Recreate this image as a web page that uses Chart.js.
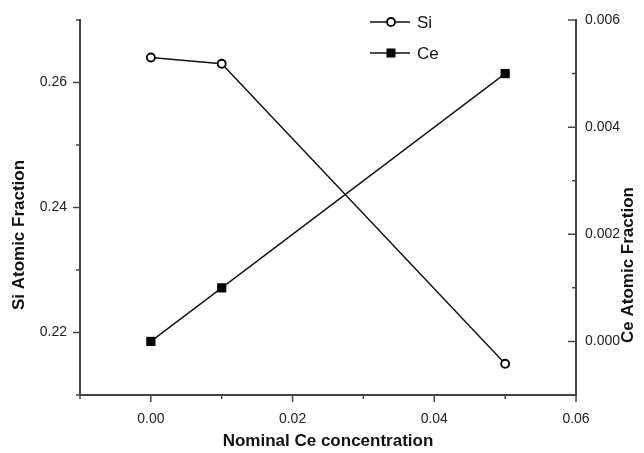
<!DOCTYPE html>
<html lang="en">
<head>
  <meta charset="UTF-8">
  <title>Si and Ce atomic fraction</title>
  <script src="https://cdn.jsdelivr.net/npm/chart.js@4.4.1/dist/chart.umd.min.js"></script>
  <style>
    body { margin: 0; background: #fff; }
    #wrap { width: 644px; height: 453px; }
  </style>
</head>
<body>
  <div id="wrap"><canvas id="chart" width="644" height="453"></canvas></div>
  <script>
    // values
    const nominalCe = [0, 0.01, 0.05];
    const siFraction = [0.264, 0.263, 0.215];
    const ceFraction = [0, 0.001, 0.005];

    const xTitle = 'Nominal Ce concentration';
    const siTitle = 'Si Atomic Fraction';
    const ceTitle = 'Ce Atomic Fraction';

    const axisColor = '#444';
    const textColor = '#222';
    const tickFont = { family: 'Liberation Sans, Arial, sans-serif', size: 14 };

    const siPoints = nominalCe.map((x, i) => ({ x: x, y: siFraction[i] }));
    const cePoints = nominalCe.map((x, i) => ({ x: x, y: ceFraction[i] }));

    // every other tick gets a label, the rest are minor ticks
    function isMajor(v, scale) {
      return Math.round(v * scale) % 2 === 0;
    }
    function fmt(v, digits) {
      const r = Math.round(v * Math.pow(10, digits)) / Math.pow(10, digits);
      return (r === 0 ? 0 : r).toFixed(digits);
    }

    // tick marks: left and bottom point out, right points into the plot
    const tickMarks = {
      id: 'tickMarks',
      afterDraw(chart) {
        const ctx = chart.ctx;
        const area = chart.chartArea;
        ctx.save();
        ctx.strokeStyle = axisColor;
        ctx.lineWidth = 1.5;
        ctx.beginPath();
        chart.scales.x.ticks.forEach(t => {
          const px = chart.scales.x.getPixelForValue(t.value);
          const len = isMajor(t.value, 100) ? 7 : 4;
          ctx.moveTo(px, area.bottom);
          ctx.lineTo(px, area.bottom + len);
        });
        chart.scales.ySi.ticks.forEach(t => {
          const py = chart.scales.ySi.getPixelForValue(t.value);
          const len = isMajor(t.value, 100) ? 7 : 4;
          ctx.moveTo(area.left, py);
          ctx.lineTo(area.left - len, py);
        });
        chart.scales.yCe.ticks.forEach(t => {
          const py = chart.scales.yCe.getPixelForValue(t.value);
          const len = isMajor(t.value, 1000) ? 8 : 4;
          ctx.moveTo(area.right, py);
          ctx.lineTo(area.right - len, py);
        });
        ctx.stroke();
        ctx.restore();
      }
    };

    // axis titles placed like the original figure
    const axisTitles = {
      id: 'axisTitles',
      afterDraw(chart) {
        const ctx = chart.ctx;
        const area = chart.chartArea;
        ctx.save();
        ctx.fillStyle = '#111';
        ctx.font = 'bold 17px Liberation Sans, Arial, sans-serif';
        ctx.textAlign = 'center';
        ctx.textBaseline = 'middle';
        ctx.fillText(xTitle, (area.left + area.right) / 2, 441);

        ctx.save();
        ctx.translate(19, 235);
        ctx.rotate(-Math.PI / 2);
        ctx.fillText(siTitle, 0, 0);
        ctx.restore();

        ctx.save();
        ctx.translate(628, 265);
        ctx.rotate(-Math.PI / 2);
        ctx.fillText(ceTitle, 0, 0);
        ctx.restore();
        ctx.restore();
      }
    };

    // legend drawn as line-marker-line like the original
    const lineLegend = {
      id: 'lineLegend',
      afterDraw(chart) {
        const ctx = chart.ctx;
        const rows = [22, 53];
        ctx.save();
        ctx.font = '17px Liberation Sans, Arial, sans-serif';
        ctx.textBaseline = 'middle';
        chart.data.datasets.forEach((ds, i) => {
          const y = rows[i];
          ctx.strokeStyle = '#111';
          ctx.lineWidth = 1.5;
          ctx.beginPath();
          ctx.moveTo(370, y);
          ctx.lineTo(410, y);
          ctx.stroke();
          if (ds.pointStyle === 'rect') {
            ctx.fillStyle = '#000';
            ctx.fillRect(391 - 4.5, y - 4.5, 9, 9);
          } else {
            ctx.fillStyle = '#fff';
            ctx.strokeStyle = '#000';
            ctx.lineWidth = 1.8;
            ctx.beginPath();
            ctx.arc(391, y, 4, 0, Math.PI * 2);
            ctx.fill();
            ctx.stroke();
          }
          ctx.fillStyle = '#111';
          ctx.fillText(ds.label, 417, y + 1);
        });
        ctx.restore();
      }
    };

    const ctx = document.getElementById('chart').getContext('2d');
    const myChart = new Chart(ctx, {
      type: 'line',
      data: {
        datasets: [
          {
            label: 'Si',
            data: siPoints,
            yAxisID: 'ySi',
            borderColor: '#111',
            borderWidth: 1.4,
            pointStyle: 'circle',
            pointRadius: 4,
            pointBorderWidth: 1.8,
            pointBackgroundColor: '#fff',
            pointBorderColor: '#000',
            fill: false
          },
          {
            label: 'Ce',
            data: cePoints,
            yAxisID: 'yCe',
            borderColor: '#111',
            borderWidth: 1.4,
            pointStyle: 'rect',
            pointRadius: 6.5,
            pointBorderWidth: 0,
            pointBackgroundColor: '#000',
            pointBorderColor: '#000',
            fill: false
          }
        ]
      },
      options: {
        responsive: false,
        animation: false,
        layout: { padding: { top: 20, left: 0, right: 0, bottom: 0 } },
        plugins: {
          legend: { display: false },
          tooltip: { enabled: false }
        },
        scales: {
          x: {
            type: 'linear',
            position: 'bottom',
            min: -0.01,
            max: 0.06,
            afterFit: s => { s.height = 58; },
            grid: { display: false },
            border: { display: true, color: axisColor, width: 2 },
            ticks: {
              stepSize: 0.01,
              padding: 8,
              color: textColor,
              font: tickFont,
              maxRotation: 0,
              autoSkip: false,
              callback: v => isMajor(v, 100) ? fmt(v, 2) : ''
            }
          },
          ySi: {
            type: 'linear',
            position: 'left',
            min: 0.21,
            max: 0.27,
            afterFit: s => { s.width = 80; },
            grid: { display: false },
            border: { display: true, color: axisColor, width: 2 },
            ticks: {
              stepSize: 0.01,
              padding: 5,
              color: textColor,
              font: tickFont,
              autoSkip: false,
              callback: v => isMajor(v, 100) ? fmt(v, 2) : ''
            }
          },
          yCe: {
            type: 'linear',
            position: 'right',
            min: -0.001,
            max: 0.006,
            afterFit: s => { s.width = 68; },
            grid: { display: false },
            border: { display: true, color: axisColor, width: 2 },
            ticks: {
              stepSize: 0.001,
              padding: 1,
              color: textColor,
              font: tickFont,
              autoSkip: false,
              callback: v => isMajor(v, 1000) ? fmt(v, 3) : ''
            }
          }
        }
      },
      plugins: [tickMarks, axisTitles, lineLegend]
    });
  </script>
</body>
</html>
